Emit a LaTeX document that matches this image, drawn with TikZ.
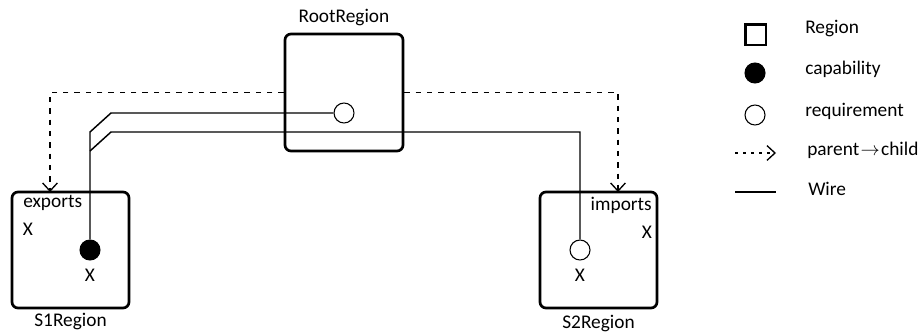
\documentclass[tikz,border=0pt]{standalone}
\usepackage{fontspec}
\setmainfont{Carlito}
\usetikzlibrary{arrows.meta}

\tikzset{
  region/.style={draw, line width=2pt, rounded corners=4.5pt, minimum width=87.75pt, minimum height=87pt, inner sep=0pt},
  capnode/.style={circle, draw, fill=black, line width=0.8pt, minimum size=15pt, inner sep=0pt},
  reqnode/.style={circle, draw, fill=white, line width=0.8pt, minimum size=15pt, inner sep=0pt},
  wire/.style={line width=1.1pt},
  parentlink/.style={line width=1.3pt, dash pattern=on 4pt off 4.5pt, -{Straight Barb[length=6pt, width=11pt, line width=1pt]}},
  lbl/.style={font=\fontsize{14.5pt}{17pt}\selectfont, inner sep=0pt},
}

\begin{document}
\begin{tikzpicture}[x=0.75pt, y=-0.75pt]
    \useasboundingbox (0,0) rectangle (924,332);

    % Regions
    \node[region, minimum height=87.75pt, minimum width=88.5pt] (root) at (344,92.5) {};
    \node[region] (s1) at (70.5,250) {};
    \node[region] (s2) at (598.5,250) {};
    \node[lbl, anchor=south] (rootlbl) at (root.north) [yshift=5pt] {RootRegion};
    \node[lbl, anchor=north] (s1lbl) at (s1.south) [yshift=-3pt] {S1Region};
    \node[lbl, anchor=north] (s2lbl) at (s2.south) [yshift=-4.5pt] {S2Region};

    % Capabilities and requirements
    \node[reqnode] (rootreq) at (344,113) {};
    \node[capnode] (s1cap) at (90,250) {};
    \node[reqnode] (s2req) at (580,250) {};

    % Texts inside the regions
    \node[lbl, anchor=west] (exp) at (23,203) {exports};
    \node[lbl] (expx) at (28,229) {X};
    \node[lbl] (capx) at (90,275) {X};
    \node[lbl, anchor=east] (imp) at (652,205) {imports};
    \node[lbl] (impx) at (647,232) {X};
    \node[lbl] (reqx) at (580,275) {X};

    % Parent to child links
    \coordinate (s1in) at (50,192);
    \coordinate (s2in) at (618,192);
    \draw[parentlink] (root.west) -| (s1in);
    \draw[parentlink] (root.east) -| (s2in);

    % Wires
    \coordinate (merge) at (90,151);
    \draw[wire] (rootreq.west) -- (111,113) -- (90,132) -- (s1cap.north);
    \draw[wire] (s2req.north) -- (580,132) -- (111,132) -- (merge);

    % Legend
    \node[draw, line width=2pt, minimum size=15.5pt, inner sep=0pt] (legreg) at (755.5,34.5) {};
    \node[capnode] (legcap) at (755,73) {};
    \node[reqnode] (legreq) at (755,115) {};
    \coordinate (legpa) at (735,153);
    \coordinate (legpb) at (776,153);
    \draw[line width=1.3pt, dash pattern=on 2pt off 4pt, -{Straight Barb[length=6pt, width=11pt, line width=1pt]}] (legpa) -- (legpb);
    \coordinate (legwa) at (735,192);
    \coordinate (legwb) at (776,192);
    \draw[wire] (legwa) -- (legwb);
    \node[lbl, anchor=west] (legregt) at (805,29) {Region};
    \node[lbl, anchor=west] (legcapt) at (805,69) {capability};
    \node[lbl, anchor=west] (legreqt) at (805,111) {requirement};
    \node[lbl, anchor=west] (legpat) at (807,150) {parent\kern1pt$\rightarrow$\kern1pt child};
    \node[lbl, anchor=west] (legwt) at (808,189) {Wire};
  \end{tikzpicture}
\end{document}
